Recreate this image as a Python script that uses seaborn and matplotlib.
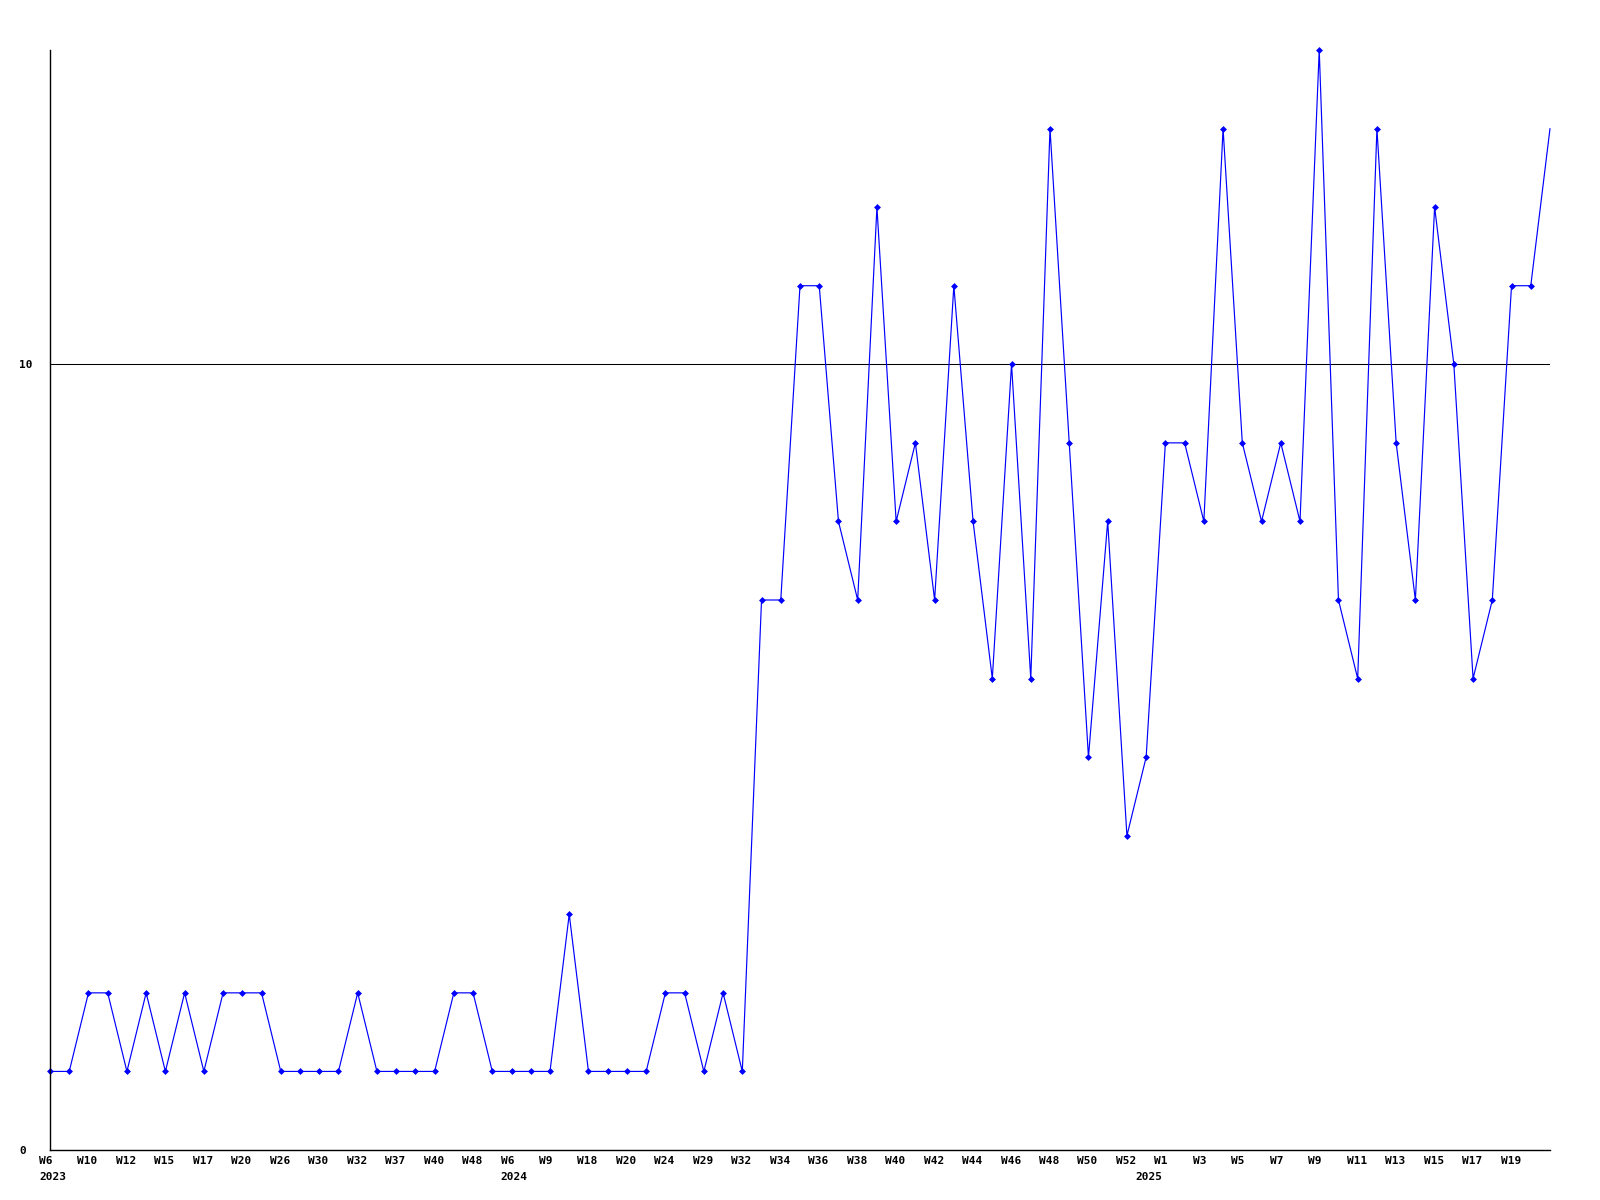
import matplotlib
matplotlib.use("Agg")
import matplotlib.pyplot as plt
import matplotlib.transforms as mtransforms
import seaborn as sns
import pandas as pd

# x tick labels (every second point is labelled in the reference)
tick_labels = [
    "W6", "W10", "W12", "W15", "W17", "W20", "W26", "W30", "W32", "W37",
    "W40", "W48", "W6", "W9", "W18", "W20", "W24", "W29", "W32", "W34",
    "W36", "W38", "W40", "W42", "W44", "W46", "W48", "W50", "W52", "W1",
    "W3", "W5", "W7", "W9", "W11", "W13", "W15", "W17", "W19",
]

# year labels and the point index where each year starts
years = ["2023", "2024", "2025"]
year_start_idx = [0, 24, 57]

values = [
    1, 1, 2, 2, 1, 2, 1, 2, 1, 2,
    2, 2, 1, 1, 1, 1, 2, 1, 1, 1,
    1, 2, 2, 1, 1, 1, 1, 3, 1, 1,
    1, 1, 2, 2, 1, 2, 1, 7, 7, 11,
    11, 8, 7, 12, 8, 9, 7, 11, 8, 6,
    10, 6, 13, 9, 5, 8, 4, 5, 9, 9,
    8, 13, 9, 8, 9, 8, 14, 7, 6, 13,
    9, 7, 12, 10, 6, 7, 11, 11, 13,
]

y_ticks = [0, 10]

df = pd.DataFrame({"idx": list(range(len(values))), "value": values})

sns.set_theme(style="white")
plt.rcParams["font.family"] = ["DejaVu Sans Mono", "DejaVu Sans"]

fig = plt.figure(figsize=(16, 12), dpi=100)
ax = fig.add_axes([50 / 1600, 1 - 1150 / 1200, 1500 / 1600, 1100 / 1200])

sns.lineplot(
    data=df, x="idx", y="value", ax=ax, color="#0000ff", linewidth=0.85,
    marker="D", markersize=3, markeredgewidth=0.5, markeredgecolor="#0000ff",
    markevery=list(range(len(values) - 1)), clip_on=False,
)

ax.set_xlim(0, len(values) - 1)
ax.set_ylim(0, 14)

ax.set_yticks(y_ticks)
ax.set_yticklabels([str(v) for v in y_ticks], fontsize=8, fontweight="bold")
for lbl in ax.get_yticklabels():
    lbl.set_horizontalalignment("left")
label_idx = [2 * i for i in range(len(tick_labels))]
ax.set_xticks(label_idx)
ax.set_xticklabels([])

ax.tick_params(axis="both", length=0, colors="black")
ax.tick_params(axis="y", pad=22)

# week labels and year labels, left-aligned just before their point
trans = mtransforms.blended_transform_factory(ax.transData, ax.transAxes)
wk_off = mtransforms.ScaledTranslation(-11 / 100, -11 / 100, fig.dpi_scale_trans)
yr_off = mtransforms.ScaledTranslation(-11 / 100, -27 / 100, fig.dpi_scale_trans)
for lab, xi in zip(tick_labels, label_idx):
    ax.text(xi, 0, lab, transform=trans + wk_off, ha="left", va="center",
            fontsize=8, fontweight="bold", color="black", clip_on=False)
for yr, xi in zip(years, year_start_idx):
    ax.text(xi, 0, yr, transform=trans + yr_off, ha="left", va="center",
            fontsize=8, fontweight="bold", color="black", clip_on=False)

ax.yaxis.grid(True, color="black", linewidth=0.75)
ax.xaxis.grid(False)
ax.set_axisbelow(True)

for s in ["top", "right"]:
    ax.spines[s].set_visible(False)
for s in ["left", "bottom"]:
    ax.spines[s].set_visible(True)
    ax.spines[s].set_color("black")
    ax.spines[s].set_linewidth(1.0)

ax.set_xlabel("")
ax.set_ylabel("")
ax.set_facecolor("white")
fig.patch.set_facecolor("white")

fig.savefig("out.png", dpi=100, facecolor="white")
